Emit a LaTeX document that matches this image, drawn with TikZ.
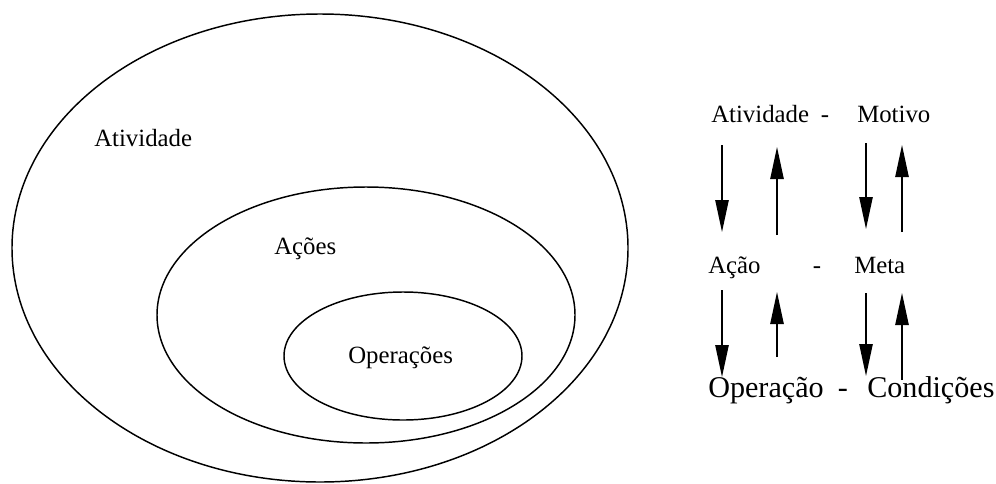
\documentclass[tikz,border=0pt]{standalone}
\usepackage{fontspec}
\setmainfont{Liberation Serif}
\usetikzlibrary{arrows.meta}
\begin{document}
\begin{tikzpicture}[x=0.75pt,y=-0.75pt,
  ring/.style={line width=1.1pt},
  lbl/.style={inner sep=0pt,anchor=base west,font=\fontsize{18.6}{22}\selectfont},
  biglbl/.style={inner sep=0pt,anchor=base west,font=\fontsize{22.6}{27}\selectfont},
  dashlbl/.style={inner sep=0pt,anchor=base,font=\fontsize{18.6}{22}\selectfont},
  bigdash/.style={inner sep=0pt,anchor=base,font=\fontsize{22.6}{27}\selectfont},
  flow/.style={line width=1.1pt,-{Triangle[length=24pt,width=10pt]}}]
\useasboundingbox (0,0) rectangle (996,483);
% ellipses
\draw[ring] (320,248) ellipse [x radius=308, y radius=234];
\draw[ring] (366,315) ellipse [x radius=209, y radius=128];
\draw[ring] (403,356) ellipse [x radius=119, y radius=64];
\node[lbl] (atv) at (94,146) {Atividade};
\node[lbl] (acs) at (274,254) {Ações};
\node[lbl] (ops) at (348,363) {Operações};
% right side
\node[lbl] (ratv) at (711,122) {Atividade};
\node[dashlbl] (d1) at (825,122) {-};
\node[lbl] (mot) at (857,122) {Motivo};
\node[lbl] (aca) at (708,273) {Ação};
\node[dashlbl] (d2) at (817,273) {-};
\node[lbl] (met) at (854,273) {Meta};
\node[biglbl] (opr) at (708,397) {Operação};
\node[bigdash] (d3) at (843,397) {-};
\node[biglbl] (con) at (867,397) {Condições};
% arrow end points
\coordinate (a1s) at (722,145); \coordinate (a1e) at (722,232);
\coordinate (a2s) at (777,235); \coordinate (a2e) at (777,147);
\coordinate (a3s) at (866,143); \coordinate (a3e) at (866,229);
\coordinate (a4s) at (902,232); \coordinate (a4e) at (902,145);
\coordinate (a5s) at (722,290); \coordinate (a5e) at (722,377);
\coordinate (a6s) at (777,357); \coordinate (a6e) at (777,292);
\coordinate (a7s) at (866,293); \coordinate (a7e) at (866,376);
\coordinate (a8s) at (902,380); \coordinate (a8e) at (902,293);
\draw[flow] (a1s) -- (a1e);
\draw[flow] (a2s) -- (a2e);
\draw[flow] (a3s) -- (a3e);
\draw[flow] (a4s) -- (a4e);
\draw[flow] (a5s) -- (a5e);
\draw[flow] (a6s) -- (a6e);
\draw[flow] (a7s) -- (a7e);
\draw[flow] (a8s) -- (a8e);
\end{tikzpicture}
\end{document}
